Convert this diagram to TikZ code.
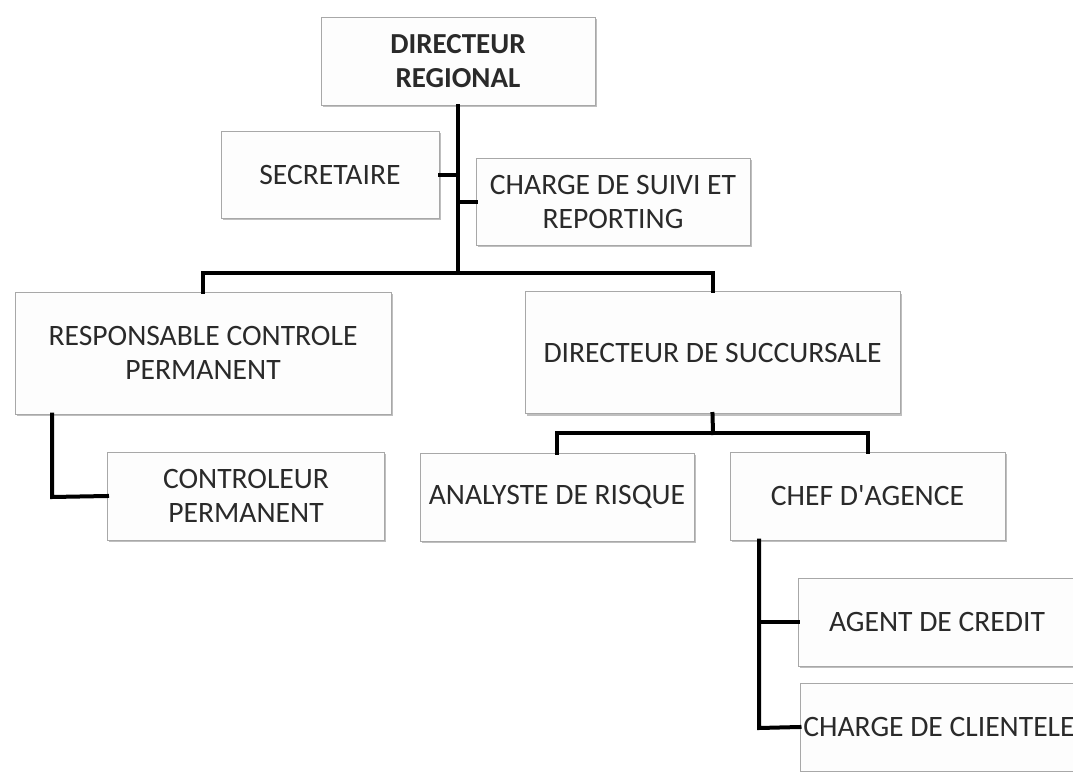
\documentclass[tikz,border=0pt]{standalone}
\usepackage{fontspec}
\setmainfont{Carlito}
\usetikzlibrary{shadows}
\definecolor{boxline}{HTML}{A8A8A8}
\definecolor{boxfill}{HTML}{FDFDFD}
\definecolor{txt}{HTML}{2A2A2A}
\tikzset{
  orgbox/.style={draw=boxline, line width=1pt, fill=boxfill, rectangle,
    align=center, text=txt, inner sep=0pt,
    font=\fontsize{29.6}{34}\selectfont,
    drop shadow={shadow xshift=1.5pt, shadow yshift=-2pt, opacity=0.25, fill=black}},
  conn/.style={line width=4pt, line join=miter, line cap=rect, black}
}
\begin{document}
\begin{tikzpicture}[x=1pt,y=-1pt]
\useasboundingbox (0,0) rectangle (1073,771);
\clip (0,0) rectangle (1073,771);
\fill[white] (0,0) rectangle (1073,771);
% nodes
\node[orgbox, minimum width=274, minimum height=88, font=\fontsize{29}{34}\selectfont\bfseries] (dr) at (458,61) {DIRECTEUR\\REGIONAL};
\node[orgbox, minimum width=218, minimum height=87] (sec) at (330,174.5) {SECRETAIRE};
\node[orgbox, minimum width=274, minimum height=87] (csr) at (613,201.5) {CHARGE DE SUIVI ET\\REPORTING};
\node[orgbox, minimum width=376, minimum height=122] (rcp) at (203,353) {RESPONSABLE CONTROLE\\PERMANENT};
\node[orgbox, minimum width=375, minimum height=122] (ds) at (712.5,352.5) {DIRECTEUR DE SUCCURSALE};
\node[orgbox, minimum width=277, minimum height=88] (cp) at (246,496) {CONTROLEUR\\PERMANENT};
\node[orgbox, minimum width=274, minimum height=88] (ar) at (557,497) {ANALYSTE DE RISQUE};
\node[orgbox, minimum width=275, minimum height=88] (ca) at (867.5,496) {CHEF D\textquotesingle AGENCE};
\node[orgbox, minimum width=278, minimum height=88] (ag) at (937,622) {AGENT DE CREDIT};
\node[orgbox, minimum width=278, minimum height=88] (cc) at (939,727) {CHARGE DE CLIENTELE};
% junctions
\coordinate (j1) at (458,273);
\coordinate (j2) at (713,433);
\coordinate (c1) at (52,497);
\coordinate (c2) at (759,728);
% connectors
\draw[conn] (dr.south) -- (j1);
\draw[conn] (sec.east) -- (sec.east -| j1);
\draw[conn] (csr.west) -- (csr.west -| j1);
\draw[conn] (rcp.north) |- (j1) -| (ds.north);
\draw[conn] (ds.south) -- (j2);
\draw[conn] (ar.north) |- (j2) -| (ca.north);
\draw[conn] (c1 |- rcp.south) -- (c1) -- (cp.west);
\draw[conn] (c2 |- ca.south) -- (c2) -- (cc.west);
\draw[conn] (ag.west) -- (ag.west -| c2);
\end{tikzpicture}
\end{document}
